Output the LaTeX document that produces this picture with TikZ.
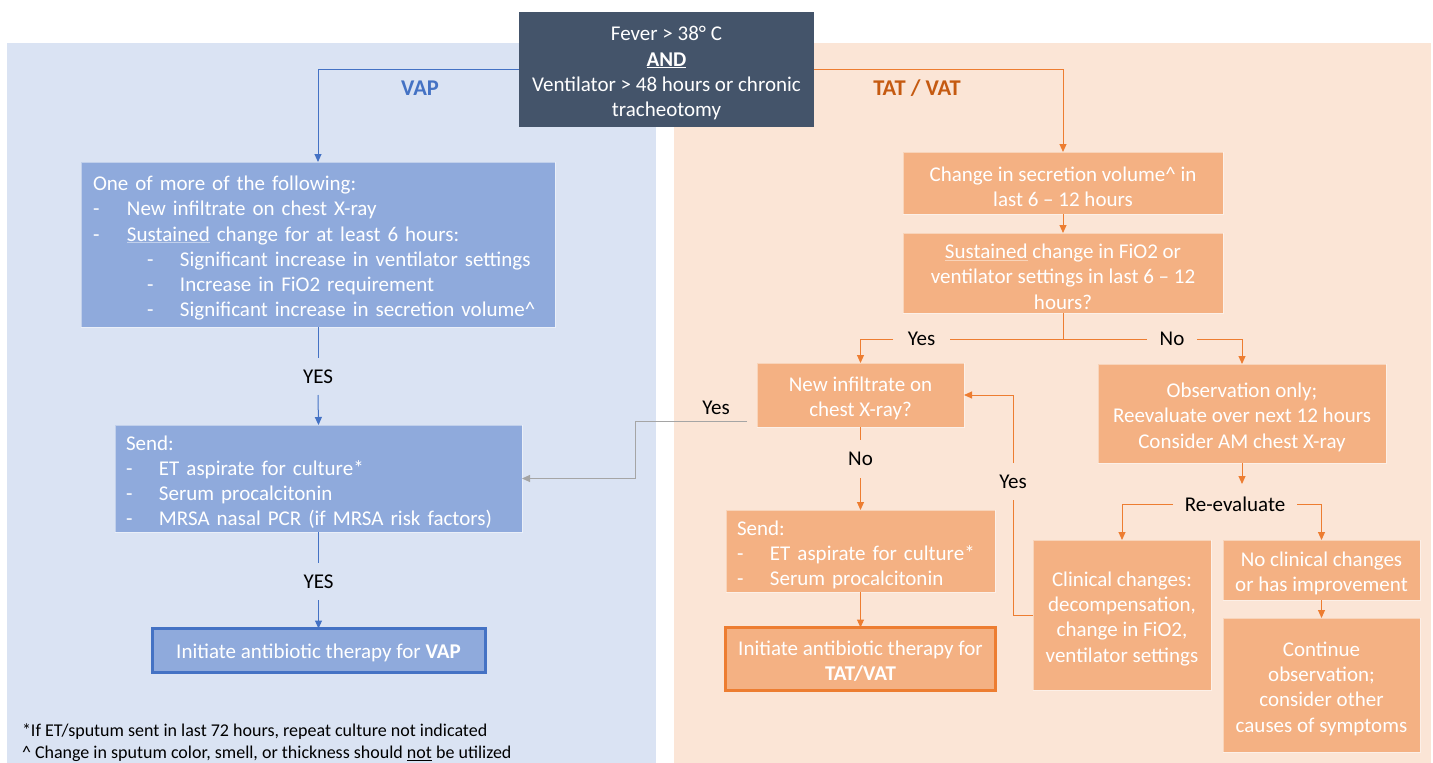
\documentclass[tikz,border=0pt]{standalone}
\usepackage{fontspec}
\setmainfont{Carlito}
\usetikzlibrary{arrows.meta}
\definecolor{bluebg}{HTML}{DAE3F3}
\definecolor{orbg}{HTML}{FBE5D6}
\definecolor{bboxc}{HTML}{8FAADC}
\definecolor{oboxc}{HTML}{F4B183}
\definecolor{darkc}{HTML}{44546A}
\definecolor{blinec}{HTML}{4472C4}
\definecolor{olinec}{HTML}{ED7D31}
\definecolor{tatc}{HTML}{C55A11}
\definecolor{grayc}{HTML}{A5A5A5}
\newcommand\fs{\fontsize{21}{25.3}\selectfont}
\newcommand\fnfs{\fontsize{18}{22}\selectfont}
\newcommand\dsh[1]{\makebox[#1][l]{-}}
\newcommand\topup{\rule{0pt}{22pt}}
\newcommand\topsm{\rule{0pt}{19pt}}
\begin{document}
\begin{tikzpicture}[x=1pt,y=-1pt,
  base/.style={inner sep=0pt, outer sep=0pt, font=\fs},
  bbox/.style={base, fill=bboxc, draw=white, draw opacity=0.45, line width=0.8pt, text=white},
  obox/.style={base, fill=oboxc, draw=white, draw opacity=0.45, line width=0.8pt, text=white},
  lab/.style={base, text=black},
  tip/.style={-{Triangle[length=8pt,width=7pt]}},
  bl/.style={draw=blinec, line width=1pt},
  ol/.style={draw=olinec, line width=1pt},
  gl/.style={draw=grayc, line width=1pt},
]
\useasboundingbox (0,0) rectangle (1433,763);
\fill[bluebg] (7,43) rectangle (656,763);
\fill[orbg] (674,43) rectangle (1431,763);

% top box
\node[base, fill=darkc, text=white, minimum width=295, minimum height=115, align=center] (top) at (666.5,69.5)
  {\topup Fever > 38° C\\\textbf{\underline{AND}}\\Ventilator > 48 hours or chronic\\tracheotomy};

\node[base, font=\fontsize{22.5}{26}\selectfont\bfseries, text=blinec] (vap) at (420,88) {VAP};
\node[base, font=\fontsize{22.5}{26}\selectfont\bfseries, text=tatc] (tat) at (917,88) {TAT / VAT};

% VAP side
\node[bbox, minimum width=474, minimum height=165, text width=450, inner xsep=12pt, align=left] (b1) at (318,244.5)
  {\topup One of more of the following:\\
   \dsh{34pt}New infiltrate on chest X-ray\\
   \dsh{34pt}\underline{Sustained} change for at least 6 hours:\\
   \hspace*{54pt}\dsh{33pt}Significant increase in ventilator settings\\
   \hspace*{54pt}\dsh{33pt}Increase in FiO2 requirement\\
   \hspace*{54pt}\dsh{33pt}Significant increase in secretion volume\textasciicircum};
\node[lab, minimum height=37] (yes1) at (318,376.5) {YES};
\node[bbox, minimum width=407, minimum height=107, text width=385, inner xsep=11pt, align=left] (b2) at (318.5,478.5)
  {\topup Send:\\
   \dsh{33pt}ET aspirate for culture*\\
   \dsh{33pt}Serum procalcitonin\\
   \dsh{33pt}MRSA nasal PCR (if MRSA risk factors)};
\node[lab, minimum height=37] (yes2) at (318.5,581.5) {YES};
\node[base, fill=bboxc, draw=blinec, line width=3pt, text=white, minimum width=333, minimum height=44] (b3) at (318.5,650.5)
  {\topsm Initiate antibiotic therapy for \textbf{VAP}};

\node[base, font=\fnfs, anchor=west, text=black] (fn1) at (22,732) {*If ET/sputum sent in last 72 hours, repeat culture not indicated};
\node[base, font=\fnfs, anchor=west, text=black] (fn2) at (22,753.5) {\textasciicircum\ Change in sputum color, smell, or thickness should \underline{not} be utilized};

% TAT/VAT side
\node[obox, minimum width=320, minimum height=62, align=center] (o1) at (1063,183)
  {\topup Change in secretion volume\textasciicircum\ in\\last 6 – 12 hours};
\node[obox, minimum width=320, minimum height=80, align=center] (o2) at (1063,273)
  {\topup\underline{Sustained} change in FiO2 or\\ventilator settings in last 6 – 12\\hours?};
\node[lab, minimum width=57, minimum height=20] (yesA) at (921.5,339) {Yes};
\node[lab, minimum width=50, minimum height=20] (noA) at (1172,339) {No};
\node[obox, minimum width=207, minimum height=64, align=center] (o3) at (860.5,395)
  {\topup New infiltrate on\\chest X-ray?};
\node[obox, minimum width=288, minimum height=99, align=center] (o4) at (1242,413.5)
  {\topup Observation only;\\Reevaluate over next 12 hours\\Consider AM chest X-ray};
\node[lab] (yesG) at (716,408) {Yes};
\node[lab, minimum height=38] (no3) at (860.5,459) {No};
\node[obox, minimum width=269, minimum height=82, text width=247, inner xsep=11pt, align=left] (o5) at (860.5,551)
  {\topup Send:\\
   \dsh{33pt}ET aspirate for culture*\\
   \dsh{33pt}Serum procalcitonin};
\node[base, fill=oboxc, draw=olinec, line width=3pt, text=white, minimum width=270, minimum height=63, align=center] (o6) at (860.5,659)
  {\topsm Initiate antibiotic therapy for\\\textbf{TAT/VAT}};
\node[lab, minimum width=124, minimum height=40] (reval) at (1235,504) {Re-evaluate};
\node[obox, minimum width=178, minimum height=150, align=center] (o7) at (1122,615)
  {\topup Clinical changes:\\decompensation,\\change in FiO2,\\ventilator settings};
\node[obox, minimum width=197, minimum height=60, align=center] (o8) at (1321.5,570)
  {\topup No clinical changes\\or has improvement};
\node[obox, minimum width=197, minimum height=134, align=center] (o9) at (1321.5,685)
  {\topup Continue\\observation;\\consider other\\causes of symptoms};
\node[lab, minimum height=37] (yesL) at (1013,481.5) {Yes};

% connectors VAP
\draw[bl,tip] (top.west) -| (b1.north);
\draw[bl] (b1.south) -- (yes1.north);
\draw[bl,tip] (yes1.south) -- (b2.north);
\draw[bl] (b2.south) -- (yes2.north);
\draw[bl,tip] (yes2.south) -- (b3.north);

% connectors TAT/VAT
\draw[ol,tip] (top.east) -| (o1.north);
\draw[ol,tip] (o1.south) -- (o2.north);
\draw[ol] (o2.south) |- (yesA.east);
\draw[ol] (o2.south) |- (noA.west);
\draw[ol,tip] (yesA.west) -| (o3.north);
\draw[ol,tip] (noA.east) -| (o4.north);
\draw[ol] (o3.south) -- (no3.north);
\draw[ol,tip] (no3.south) -- (o5.north);
\draw[ol,tip] (o5.south) -- (o6.north);
\draw[ol,tip] (o4.south) -- (o4.south |- reval.north);
\draw[ol,tip] (reval.west) -| (o7.north);
\draw[ol,tip] (reval.east) -| (o8.north);
\draw[ol,tip] (o8.south) -- (o9.north);
\draw[ol] (o7.west) -| (yesL.south);
\draw[ol,tip] (yesL.north) |- (o3.east);
\draw[gl,tip] ([xshift=-10pt,yshift=6pt]o3.south west) -- ++(-112,0) |- (b2.east);
\end{tikzpicture}
\end{document}
